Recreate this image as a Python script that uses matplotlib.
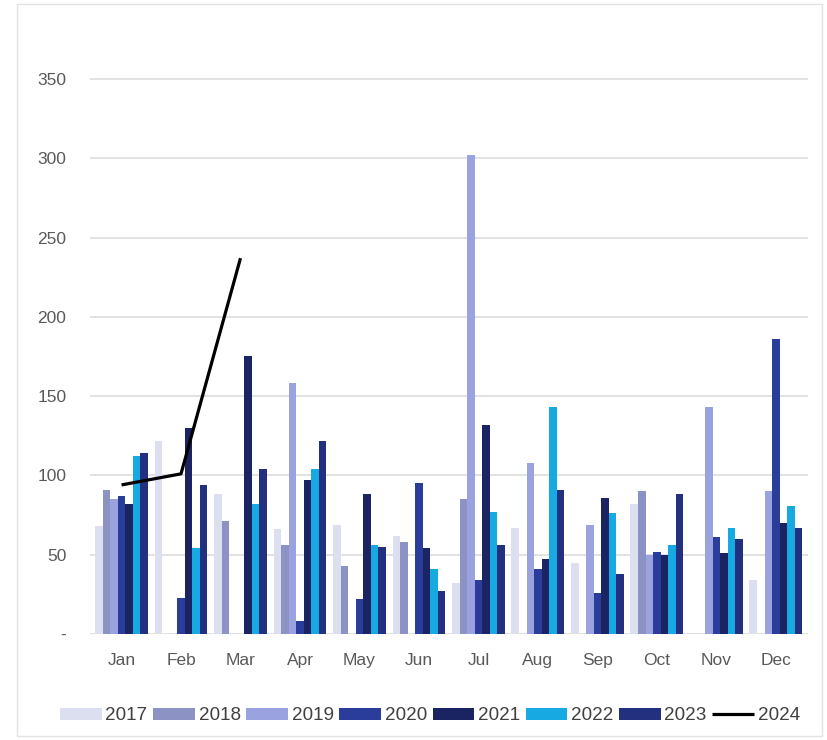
import numpy as np
import matplotlib
matplotlib.use("Agg")
import matplotlib.pyplot as plt
from matplotlib.patches import Rectangle

months = ["Jan", "Feb", "Mar", "Apr", "May", "Jun", "Jul", "Aug", "Sep", "Oct", "Nov", "Dec"]
years = ["2017", "2018", "2019", "2020", "2021", "2022", "2023"]
y2017 = [68, 122, 88, 66, 69, 62, 32, 67, 45, 82, 0, 34]
y2018 = [91, 0, 71, 56, 43, 58, 85, 0, 0, 90, 0, 0]
y2019 = [85, 0, 0, 158, 0, 0, 302, 108, 69, 50, 143, 90]
y2020 = [87, 23, 0, 8, 22, 95, 34, 41, 26, 52, 61, 186]
y2021 = [82, 130, 175, 97, 88, 54, 132, 47, 86, 50, 51, 70]
y2022 = [112, 54, 82, 104, 56, 41, 77, 143, 76, 56, 67, 81]
y2023 = [114, 94, 104, 122, 55, 27, 56, 91, 38, 88, 60, 67]
y2024 = [94, 101, 237, None, None, None, None, None, None, None, None, None]
yticks = [0, 50, 100, 150, 200, 250, 300, 350]
ytick_labels = ["-", "50", "100", "150", "200", "250", "300", "350"]

series = [y2017, y2018, y2019, y2020, y2021, y2022, y2023]
colors = ["#dcdff0", "#8c92c4", "#9aa3e0", "#2b3d9a", "#1b2463", "#17a9e1", "#23307f"]

plt.rcParams['font.family'] = ['Liberation Sans', 'DejaVu Sans']

fig = plt.figure(figsize=(8.28, 7.40), dpi=100)
ax = fig.add_axes([90/828, 106/740, 718/828, (634-71)/740])

x = np.arange(len(months))
w = 0.127
handles = []
for i, (vals, c) in enumerate(zip(series, colors)):
    off = (i - 3) * w
    b = ax.bar(x + off, vals, width=w, color=c, zorder=3, linewidth=0)
    handles.append(b)

v24 = np.array([np.nan if v is None else v for v in y2024], dtype=float)
ln, = ax.plot(x, v24, color="black", lw=2.3, zorder=4, solid_capstyle="butt")
handles.append(ln)

ax.set_xlim(-0.53, 11.54)
ax.set_ylim(0, 355)
ax.set_yticks(yticks)
ax.set_yticklabels(ytick_labels)
ax.set_xticks(x)
ax.set_xticklabels(months)
ax.tick_params(axis='both', length=0, labelsize=12.5, colors="#595959")
ax.tick_params(axis='y', pad=17)
ax.tick_params(axis='x', pad=14)
ax.yaxis.grid(True, color="#dadada", lw=1.1, zorder=0)
ax.set_axisbelow(True)
for s in ax.spines.values():
    s.set_visible(False)

leg = fig.legend(handles, ["2017", "2018", "2019", "2020", "2021", "2022", "2023", "2024"],
                 loc="center", bbox_to_anchor=(430/828, 1 - 716/740), ncol=8, frameon=False,
                 fontsize=13.6, handlelength=2.2, handleheight=0.55, handletextpad=0.2,
                 columnspacing=0.3, borderpad=0)
for t in leg.get_texts():
    t.set_color("#404040")

fig.patches.append(Rectangle((17/828, 4/740), (822-17)/828, (736-4)/740, transform=fig.transFigure,
                             fill=False, edgecolor="#e3e3e3", lw=1.0))

fig.savefig("out.png", dpi=100, facecolor="white")
